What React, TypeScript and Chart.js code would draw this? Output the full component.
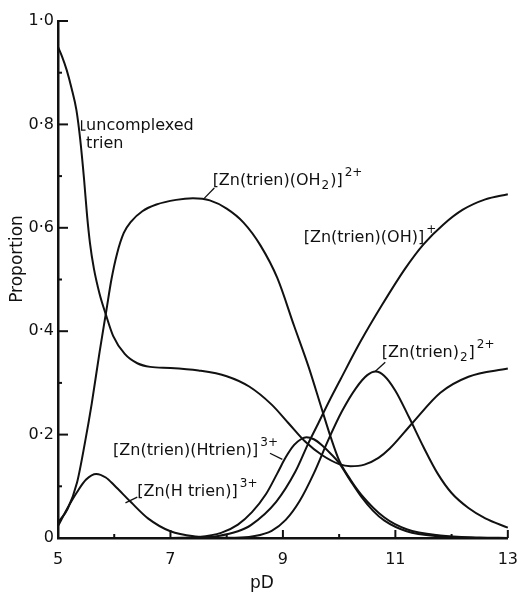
import React, { useEffect, useRef } from "react";
import { Chart, registerables } from "chart.js";

Chart.register(...registerables);

// ---- Data ----
const trienPD = [5.0, 5.069, 5.155, 5.241, 5.327, 5.396, 5.465, 5.516, 5.568, 5.637, 5.74, 5.843, 5.98, 6.187, 6.41, 6.64, 7.0, 7.5, 8.0, 8.4, 8.8, 9.1, 9.4, 9.7, 10.0, 10.2, 10.45, 10.7, 10.9, 11.3, 11.8, 12.3, 13.0];
const trienP = [0.95, 0.932, 0.905, 0.87, 0.828, 0.77, 0.692, 0.625, 0.571, 0.522, 0.472, 0.435, 0.391, 0.356, 0.338, 0.331, 0.329, 0.324, 0.313, 0.293, 0.258, 0.222, 0.186, 0.16, 0.143, 0.139, 0.142, 0.155, 0.173, 0.222, 0.281, 0.312, 0.328];

const oh2PD = [5.0, 5.17, 5.34, 5.48, 5.6, 5.74, 5.86, 5.95, 6.05, 6.17, 6.3, 6.5, 6.75, 7.1, 7.4, 7.7, 8.0, 8.3, 8.6, 8.9, 9.2, 9.46, 9.69, 9.85, 10.0, 10.2, 10.4, 10.8, 11.2, 11.8, 12.5, 13.0];
const oh2P = [0.03, 0.056, 0.108, 0.185, 0.26, 0.36, 0.44, 0.5, 0.55, 0.59, 0.612, 0.632, 0.645, 0.654, 0.657, 0.653, 0.637, 0.61, 0.566, 0.503, 0.41, 0.33, 0.25, 0.195, 0.15, 0.113, 0.083, 0.04, 0.017, 0.005, 0.001, 0.0];

const ohPD = [7.0, 7.5, 7.85, 8.2, 8.43, 8.88, 9.22, 9.46, 9.63, 9.82, 10.03, 10.37, 10.77, 11.18, 11.5, 11.85, 12.2, 12.6, 13.0];
const ohP = [0, 0.001, 0.004, 0.013, 0.025, 0.07, 0.128, 0.185, 0.222, 0.264, 0.308, 0.378, 0.452, 0.522, 0.568, 0.606, 0.635, 0.655, 0.665];

const htrienPD = [7.0, 7.5, 7.9, 8.2, 8.45, 8.7, 8.9, 9.05, 9.2, 9.32, 9.42, 9.55, 9.7, 9.85, 10.0, 10.2, 10.4, 10.6, 10.8, 11.2, 11.8, 12.5, 13.0];
const htrienP = [0, 0.002, 0.01, 0.026, 0.05, 0.085, 0.125, 0.156, 0.18, 0.191, 0.195, 0.191, 0.179, 0.163, 0.145, 0.111, 0.079, 0.053, 0.034, 0.013, 0.003, 0, 0];

const bisPD = [7.5, 8.0, 8.5, 8.8, 9.05, 9.3, 9.55, 9.8, 10.05, 10.3, 10.5, 10.65, 10.8, 11.0, 11.25, 11.5, 11.75, 12.0, 12.3, 12.6, 13.0];
const bisP = [0, 0, 0.004, 0.014, 0.035, 0.072, 0.125, 0.188, 0.245, 0.29, 0.315, 0.322, 0.314, 0.285, 0.232, 0.176, 0.125, 0.087, 0.058, 0.038, 0.02];

const znhPD = [5.0, 5.17, 5.34, 5.5, 5.68, 5.85, 6.0, 6.3, 6.6, 7.0, 7.45, 8.0, 9.0];
const znhP = [0.023, 0.058, 0.089, 0.113, 0.124, 0.117, 0.102, 0.069, 0.038, 0.013, 0.003, 0.0005, 0];

const xMin = 5;
const xMax = 13;
const xLabelled = [5, 7, 9, 11, 13];
const yMin = 0;
const yMax = 1;

// Label texts: segments of [text, kind] where kind is n (normal), sub, sup
type Seg = [string, "n" | "sub" | "sup"];
const labelTexts: { segs: Seg[]; x: number; y: number }[] = [
  { segs: [["uncomplexed", "n"]], x: 5.5, y: 0.789 },
  { segs: [["trien", "n"]], x: 5.5, y: 0.754 },
  { segs: [["[Zn(trien)(OH", "n"], ["2", "sub"], [")]", "n"], ["2+", "sup"]], x: 7.75, y: 0.683 },
  { segs: [["[Zn(trien)(OH)]", "n"], ["+", "sup"]], x: 9.37, y: 0.573 },
  { segs: [["[Zn(trien)", "n"], ["2", "sub"], ["]", "n"], ["2+", "sup"]], x: 10.76, y: 0.35 },
  { segs: [["[Zn(trien)(Htrien)]", "n"], ["3+", "sup"]], x: 5.98, y: 0.161 },
  { segs: [["[Zn(H trien)]", "n"], ["3+", "sup"]], x: 6.41, y: 0.081 },
];
// Leader lines (polyline points in data units)
const leaders: number[][][] = [
  [[5.42, 0.808], [5.42, 0.789], [5.49, 0.789]],
  [[7.78, 0.677], [7.6, 0.657]],
  [[10.82, 0.34], [10.64, 0.322]],
  [[8.77, 0.164], [8.99, 0.152]],
  [[6.41, 0.079], [6.2, 0.068]],
];

const FONT = "'DejaVu Sans', sans-serif";

const toPts = (xs: number[], ys: number[]) => xs.map((x, i) => ({ x, y: ys[i] }));

const overlayPlugin = {
  id: "overlay",
  afterDraw(chart: any) {
    const { ctx, chartArea, scales } = chart;
    const xs = scales.x;
    const ys = scales.y;
    ctx.save();
    ctx.strokeStyle = "#111";
    ctx.fillStyle = "#111";
    // inward tick marks
    ctx.lineWidth = 2;
    ys.ticks.forEach((t: any) => {
      const py = ys.getPixelForValue(t.value);
      const major = Math.round(t.value * 10) % 2 === 0;
      ctx.beginPath();
      ctx.moveTo(chartArea.left, py);
      ctx.lineTo(chartArea.left + (major ? 10 : 4), py);
      ctx.stroke();
    });
    xs.ticks.forEach((t: any) => {
      const px = xs.getPixelForValue(t.value);
      const major = xLabelled.includes(Math.round(t.value));
      ctx.beginPath();
      ctx.moveTo(px, chartArea.bottom);
      ctx.lineTo(px, chartArea.bottom - (major ? 8 : 4));
      ctx.stroke();
    });
    // labels
    ctx.textBaseline = "alphabetic";
    ctx.textAlign = "left";
    labelTexts.forEach((lb) => {
      let px = xs.getPixelForValue(lb.x);
      const py = ys.getPixelForValue(lb.y);
      lb.segs.forEach(([s, kind]) => {
        if (kind === "n") {
          ctx.font = `16px ${FONT}`;
          ctx.fillText(s, px, py);
        } else if (kind === "sub") {
          ctx.font = `12px ${FONT}`;
          ctx.fillText(s, px + 1, py + 4);
          px += 2;
        } else {
          ctx.font = `12px ${FONT}`;
          ctx.fillText(s, px + 2, py - 9);
          px += 2;
        }
        px += ctx.measureText(s).width;
      });
    });
    ctx.lineWidth = 1.3;
    leaders.forEach((pl) => {
      ctx.beginPath();
      pl.forEach(([x, y], i) => {
        const px = xs.getPixelForValue(x);
        const py = ys.getPixelForValue(y);
        if (i === 0) ctx.moveTo(px, py);
        else ctx.lineTo(px, py);
      });
      ctx.stroke();
    });
    // axis titles
    ctx.font = `17px ${FONT}`;
    ctx.textAlign = "center";
    ctx.textBaseline = "alphabetic";
    ctx.fillText("pD", 262, 588);
    ctx.save();
    ctx.translate(22, 259);
    ctx.rotate(-Math.PI / 2);
    ctx.fillText("Proportion", 0, 0);
    ctx.restore();
    ctx.restore();
  },
};

export default function App() {
  const ref = useRef<HTMLCanvasElement | null>(null);
  useEffect(() => {
    if (!ref.current) return;
    const line = (xs: number[], ys: number[]) => ({
      data: toPts(xs, ys),
      borderColor: "#111",
      borderWidth: 2,
      pointRadius: 0,
      fill: false,
      cubicInterpolationMode: "monotone" as const,
      clip: false as any,
    });
    const chart = new Chart(ref.current, {
      type: "line",
      data: {
        datasets: [
          { label: "uncomplexed trien", ...line(trienPD, trienP) },
          { label: "[Zn(trien)(OH2)]2+", ...line(oh2PD, oh2P) },
          { label: "[Zn(trien)(OH)]+", ...line(ohPD, ohP) },
          { label: "[Zn(trien)(Htrien)]3+", ...line(htrienPD, htrienP) },
          { label: "[Zn(trien)2]2+", ...line(bisPD, bisP) },
          { label: "[Zn(Htrien)]3+", ...line(znhPD, znhP) },
        ],
      },
      options: {
        responsive: false,
        animation: false,
        layout: { padding: { top: 21, right: 7, bottom: 0, left: 0 } },
        plugins: { legend: { display: false }, tooltip: { enabled: false } },
        scales: {
          x: {
            type: "linear",
            min: xMin,
            max: xMax,
            afterFit: (s: any) => {
              s.height = 54;
            },
            border: { display: true, color: "#111", width: 2.5 },
            grid: { display: false, drawTicks: false },
            ticks: {
              stepSize: 1,
              autoSkip: false,
              maxRotation: 0,
              padding: 12,
              color: "#111",
              font: { family: FONT, size: 16 },
              callback: (v: any) => (xLabelled.includes(Math.round(Number(v))) ? String(Math.round(Number(v))) : ""),
            },
          },
          y: {
            type: "linear",
            min: yMin,
            max: yMax,
            afterFit: (s: any) => {
              s.width = 58;
            },
            border: { display: true, color: "#111", width: 2.5 },
            grid: { display: false, drawTicks: false },
            ticks: {
              stepSize: 0.1,
              autoSkip: false,
              padding: 4,
              color: "#111",
              font: { family: FONT, size: 16 },
              callback: (v: any) => {
                const n = Math.round(Number(v) * 10);
                if (n % 2 !== 0) return "";
                if (n === 0) return "0";
                return (n / 10).toFixed(1).replace(".", "\u00b7");
              },
            },
          },
        },
      },
      plugins: [overlayPlugin],
    });
    return () => chart.destroy();
  }, []);
  return (
    <div style={{ position: "absolute", left: 0, top: 0, width: 530, height: 592, background: "#fff" }}>
      <canvas ref={ref} width={530} height={592} />
    </div>
  );
}
